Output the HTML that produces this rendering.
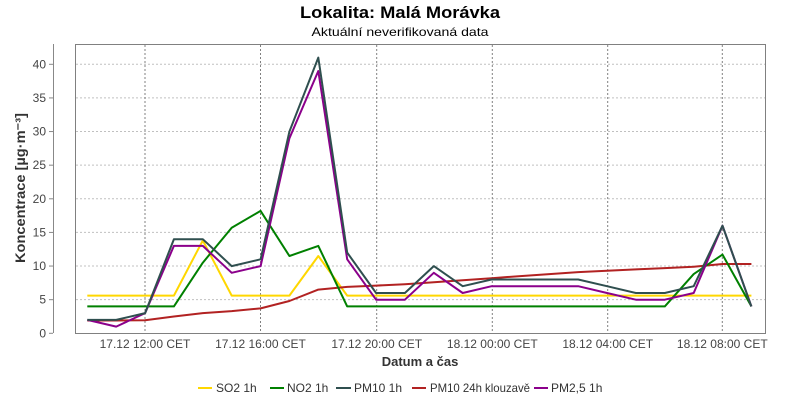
<!DOCTYPE html>
<html><head><meta charset="utf-8"><style>
html,body{margin:0;padding:0;background:#fff;}
svg{display:block;font-family:"Liberation Sans",sans-serif;}
</style></head><body>
<svg id="s" width="800" height="400" xmlns="http://www.w3.org/2000/svg">
<rect width="800" height="400" fill="#fff"/>
<text x="400" y="18" text-anchor="middle" font-size="17" font-weight="bold" textLength="200" lengthAdjust="spacingAndGlyphs">Lokalita: Malá Morávka</text>
<text x="400" y="36" text-anchor="middle" font-size="12" textLength="177" lengthAdjust="spacingAndGlyphs">Aktuální neverifikovaná data</text>
<g id="grid"></g>
<rect x="75.5" y="44.5" width="690" height="289" fill="none" stroke="#808080" stroke-width="1"/>
<line x1="53.5" y1="44" x2="53.5" y2="333" stroke="#888" stroke-width="1"/>
<g id="ylab" font-size="12" fill="#444" text-anchor="end"></g>
<g id="xlab" font-size="12" fill="#444" text-anchor="middle"></g>
<text transform="translate(25,188) rotate(-90)" text-anchor="middle" font-size="14" font-weight="bold" fill="#333" textLength="150" lengthAdjust="spacingAndGlyphs">Koncentrace [µg·m⁻³]</text>
<text x="420" y="366" text-anchor="middle" font-size="13" font-weight="bold" fill="#333">Datum a čas</text>
<g id="series" fill="none" stroke-width="2" stroke-linejoin="round"></g>
<g font-size="12" fill="#333">
<line x1="198" y1="388" x2="212" y2="388" stroke="#ffd700" stroke-width="2"/><text x="216" y="392">SO2 1h</text>
<line x1="270" y1="388" x2="284" y2="388" stroke="#008000" stroke-width="2"/><text x="287" y="392">NO2 1h</text>
<line x1="336" y1="388" x2="351" y2="388" stroke="#2f4f4f" stroke-width="2"/><text x="354" y="392">PM10 1h</text>
<line x1="412" y1="388" x2="426" y2="388" stroke="#b22222" stroke-width="2"/><text x="430" y="392" textLength="100" lengthAdjust="spacingAndGlyphs">PM10 24h klouzavě</text>
<line x1="534" y1="388" x2="548" y2="388" stroke="#8b008b" stroke-width="2"/><text x="551" y="392">PM2,5 1h</text>
</g>
</svg>
<script>
var NS="http://www.w3.org/2000/svg";
function el(t,a,p,txt){var e=document.createElementNS(NS,t);for(var k in a)e.setAttribute(k,a[k]);if(txt!==undefined)e.textContent=txt;document.getElementById(p).appendChild(e);return e;}
function Y(v){return 333.3-v*6.725;}
function X(i){return 87.3+28.875*i;}
for(var v=5;v<=40;v+=5){var y=Y(v);el('line',{x1:76,x2:765,y1:y,y2:y,stroke:'#c0c0c0','stroke-dasharray':'2,2'},'grid');}
for(var v=0;v<=40;v+=5){var y=Y(v);el('text',{x:46,y:y+4},'ylab',String(v));el('line',{x1:49,x2:53,y1:y,y2:y,stroke:'#888'},'ylab');}
var xs=[145,260.5,376.7,492.3,607.7,722.3],xl=["17.12 12:00 CET","17.12 16:00 CET","17.12 20:00 CET","18.12 00:00 CET","18.12 04:00 CET","18.12 08:00 CET"];
for(var i=0;i<6;i++){el('line',{x1:xs[i],x2:xs[i],y1:45,y2:333,stroke:'#808080','stroke-dasharray':'2,2'},'grid');el('text',{x:xs[i],y:348},'xlab',xl[i]);}
var S=[
['#ffd700',[5.6,5.6,5.6,5.6,13.8,5.6,5.6,5.6,11.5,5.6,5.6,5.6,5.6,5.6,5.6,5.6,5.6,5.6,5.6,5.6,5.6,5.6,5.6,5.6]],
['#b22222',[1.9,1.9,1.95,2.5,3,3.3,3.7,4.8,6.5,6.9,7.1,7.3,7.6,7.9,8.2,8.5,8.8,9.1,9.3,9.5,9.7,9.9,10.3,10.3]],
['#008000',[4,4,4,4,10.5,15.7,18.2,11.5,13,4,4,4,4,4,4,4,4,4,4,4,4,8.8,11.7,4]],
['#8b008b',[2,1,3,13,13,9,10,29,39,11,5,5,9,6,7,7,7,7,6,5,5,6,16,4]],
['#2f4f4f',[2,2,3,14,14,10,11,30,41,12,6,6,10,7,8,8,8,8,7,6,6,7,16,4]]];
S.forEach(function(s){var p=s[1].map(function(v,i){return X(i).toFixed(1)+','+Y(v).toFixed(1);}).join(' ');el('polyline',{points:p,stroke:s[0]},'series');});
</script>
</body></html>
